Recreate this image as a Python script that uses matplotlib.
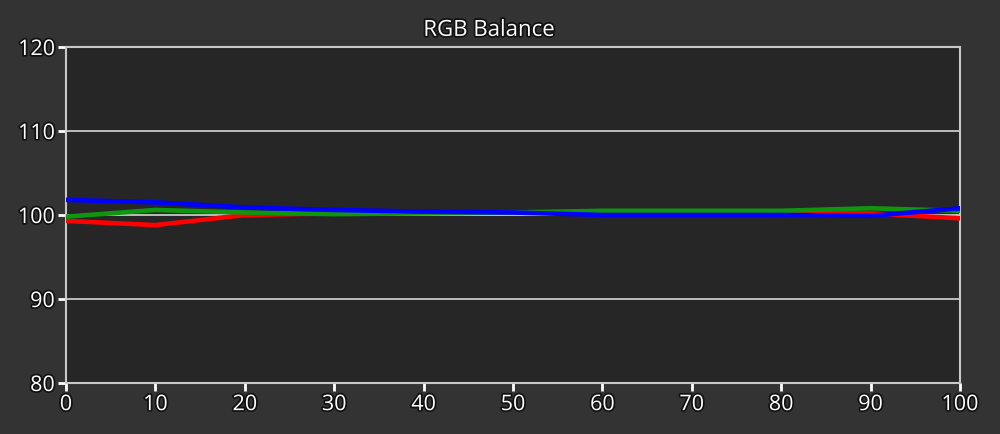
import matplotlib
matplotlib.use("Agg")
import matplotlib.pyplot as plt
import matplotlib.patheffects as pe

# stimulus levels (%)
levels = [0, 10, 20, 30, 40, 50, 60, 70, 80, 90, 100]

red = [99.3, 98.8, 100.0, 100.2, 100.3, 100.3, 100.3, 100.3, 100.2, 100.2, 99.6]
green = [99.8, 100.6, 100.3, 100.1, 100.2, 100.3, 100.5, 100.5, 100.5, 100.8, 100.5]
blue = [101.8, 101.5, 100.9, 100.6, 100.4, 100.3, 100.0, 100.0, 100.0, 99.9, 100.8]

xticks = [0, 10, 20, 30, 40, 50, 60, 70, 80, 90, 100]
yticks = [80, 90, 100, 110, 120]

fig = plt.figure(figsize=(10, 4.34), dpi=100, facecolor="#333333")
ax = fig.add_axes([0.066, 0.1175, 0.894, 0.7742])
ax.set_facecolor("#262626")

for v in yticks[1:-1]:
    ax.axhline(v, color="#c8c8c8", lw=1.3, zorder=1)

ax.plot(levels, red, color="#ff0000", lw=3.3, zorder=3)
ax.plot(levels, green, color="#0f960f", lw=3.3, zorder=4)
ax.plot(levels, blue, color="#0000ff", lw=3.3, zorder=5)

ax.set_xlim(0, 100)
ax.set_ylim(80, 120)
ax.set_xticks(xticks)
ax.set_yticks(yticks)

for s in ax.spines.values():
    s.set_color("#c8c8c8")
    s.set_linewidth(1.5)

ax.tick_params(direction="out", colors="white", length=6, width=2, labelsize=15.5, pad=2)
outline = [pe.withStroke(linewidth=2.5, foreground="#111111")]
for lab in ax.get_xticklabels() + ax.get_yticklabels():
    lab.set_family("Open Sans")
    lab.set_path_effects(outline)

fig.text(0.489, 0.93, "RGB Balance", color="white", fontsize=16, family="Open Sans",
         ha="center", va="center", path_effects=outline)

fig.savefig("out.png", dpi=100, facecolor=fig.get_facecolor())
